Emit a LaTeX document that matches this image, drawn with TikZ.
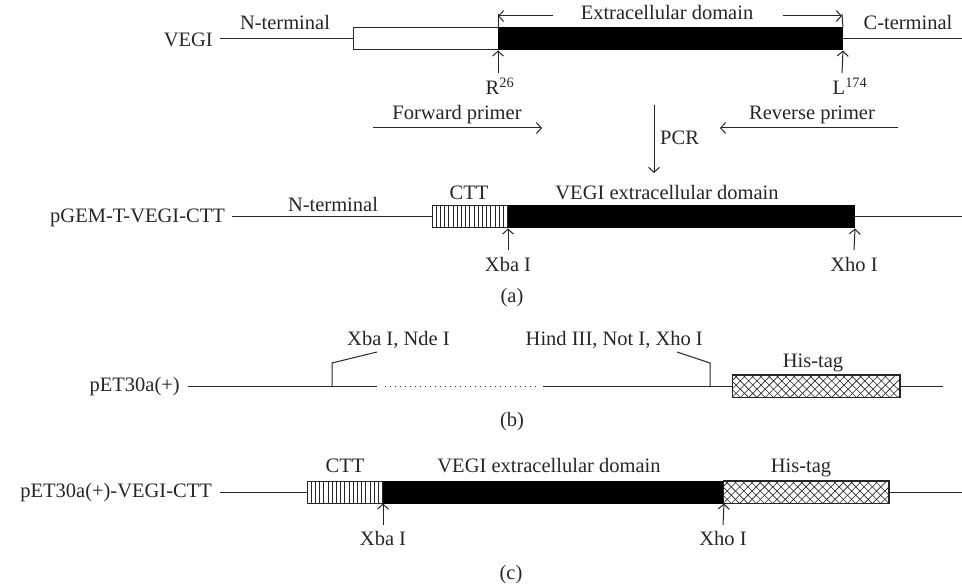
\documentclass[tikz,border=0pt]{standalone}
\usepackage{fontspec}
\setmainfont{Liberation Serif}
\usetikzlibrary{arrows.meta}
\begin{document}
\begin{tikzpicture}[x=1pt,y=-1pt,
  font=\fontsize{20.5}{24}\selectfont,
  lbl/.style={inner sep=0pt, text=black!85},
  ln/.style={line width=1pt, draw=black!85},
  arr/.style={ln, -{Straight Barb[length=5pt,width=11pt]}},
  seg/.style={inner sep=0pt, minimum height=22pt, anchor=west, line width=1pt, draw=black!85},
  blk/.style={seg, fill=black, draw=black},
  wht/.style={seg, fill=white},
  hatch/.style={line width=0.8pt, draw=black!85}]
\useasboundingbox (0,0) rectangle (962,588);

% ---------- row 1: VEGI ----------
\node[lbl, anchor=base east] (vegi) at (213,47) {VEGI};
\coordinate (r1s) at (220,39);
\coordinate (r1e) at (962,39);
\node[wht, minimum width=145pt] (nt1) at (353,39) {};
\node[blk, minimum width=344pt] (ecd1) at (498,39) {};
\draw[ln] (r1s) -- (nt1.west);
\draw[ln] (ecd1.east) -- (r1e);
\node[lbl, anchor=base] (nterm1) at (285,30) {N-terminal};
\node[lbl, anchor=base] (cterm1) at (908,30) {C-terminal};
\node[lbl, anchor=base] (ext) at (667,20) {Extracellular domain};
\coordinate (el) at (498,14);
\coordinate (er) at (842,14);
\draw[ln] (ecd1.north west) -- (el);
\draw[ln] (ecd1.north east) -- (er);
\coordinate (ela) at (553,16);
\coordinate (elb) at (498,16);
\coordinate (era) at (783,16);
\coordinate (erb) at (842,16);
\draw[arr] (ela) -- (elb);
\draw[arr] (era) -- (erb);
\node[lbl, anchor=base] (r26) at (500,95) {R\textsuperscript{26}};
\node[lbl, anchor=base] (l174) at (850,95) {L\textsuperscript{174}};
\coordinate (r26t) at (498,73);
\coordinate (l174t) at (842,73);
\draw[arr] (r26t) -- (ecd1.south west);
\draw[arr] (l174t) -- (ecd1.south east);

\node[lbl, anchor=base] (fwd) at (457,120) {Forward primer};
\node[lbl, anchor=base] (rev) at (812,120) {Reverse primer};
\coordinate (f1) at (373,128);
\coordinate (f2) at (542,128);
\coordinate (v1) at (898,128);
\coordinate (v2) at (720,128);
\draw[arr] (f1) -- (f2);
\draw[arr] (v1) -- (v2);
\coordinate (p1) at (654,105);
\coordinate (p2) at (654,173);
\draw[arr] (p1) -- (p2);
\node[lbl, anchor=base west] (pcr) at (660,145) {PCR};

% ---------- row 2: pGEM ----------
\node[lbl, anchor=base east] (pgem) at (225,223) {pGEM-T-VEGI-CTT};
\coordinate (r2s) at (232,217);
\coordinate (r2e) at (962,217);
\node[wht, minimum width=76pt] (ctt2) at (432,217) {};
\node[blk, minimum width=346pt] (ecd2) at (508,217) {};
\draw[ln] (r2s) -- (ctt2.west);
\draw[ln] (ecd2.east) -- (r2e);
\begin{scope}
  \clip (ctt2.south west) rectangle (ctt2.north east);
  \foreach \i in {1,...,18} \draw[hatch] ([xshift=\i*4.2pt]ctt2.south west) -- ([xshift=\i*4.2pt]ctt2.north west);
\end{scope}
\node[lbl, anchor=base] (nterm2) at (333,212) {N-terminal};
\node[lbl, anchor=base] (ctt2l) at (469,200) {CTT};
\node[lbl, anchor=base] (ecd2l) at (667,200) {VEGI extracellular domain};
\coordinate (xb2) at (508,250);
\coordinate (xh2) at (854,250);
\draw[arr] (xb2) -- (ecd2.south west);
\draw[arr] (xh2) -- (ecd2.south east);
\node[lbl, anchor=base] (xba2) at (508,272) {Xba I};
\node[lbl, anchor=base] (xho2) at (854,272) {Xho I};
\node[lbl, anchor=base] (la) at (512,303) {(a)};

% ---------- row b: pET30a(+) ----------
\node[lbl, anchor=base east] (pet) at (180,391) {pET30a(+)};
\coordinate (b1) at (188,386);
\coordinate (b2) at (377,386);
\coordinate (b3) at (385,386);
\coordinate (b4) at (537,386);
\coordinate (b5) at (543,386);
\coordinate (b6) at (943,386);
\node[wht, minimum width=167pt] (his2) at (732,386) {};
\begin{scope}
  \clip (his2.south west) rectangle (his2.north east);
  \foreach \i in {-3,...,21} {
    \draw[hatch, line width=0.6pt] ([xshift=\i*8.3pt]his2.south west) -- ++(24,-24);
    \draw[hatch, line width=0.6pt] ([xshift=\i*8.3pt]his2.south west) -- ++(-24,-24);
  }
\end{scope}
\draw[ln] (his2.south west) rectangle (his2.north east);
\draw[ln] (b1) -- (b2);
\draw[ln, dash pattern=on 1pt off 4pt] (b3) -- (b4);
\draw[ln] (b5) -- (his2.west);
\draw[ln] (his2.east) -- (b6);
\coordinate (m1a) at (332,386);
\coordinate (m1b) at (332,363);
\coordinate (m1c) at (377,352);
\coordinate (m2a) at (710,386);
\coordinate (m2b) at (710,363);
\coordinate (m2c) at (677,352);
\draw[ln] (m1a) -- (m1b) -- (m1c);
\draw[ln] (m2a) -- (m2b) -- (m2c);
\node[lbl, anchor=base west] (xnd) at (347,345) {Xba I, Nde I};
\node[lbl, anchor=base east] (hnx) at (703,345) {Hind III, Not I, Xho I};
\node[lbl, anchor=base] (his2l) at (813,367) {His-tag};
\node[lbl, anchor=base] (lb) at (512,426) {(b)};

% ---------- row c: pET30a(+)-VEGI-CTT ----------
\node[lbl, anchor=base east] (petv) at (212,497) {pET30a(+)-VEGI-CTT};
\coordinate (c1) at (220,492);
\coordinate (c2) at (962,492);
\node[wht, minimum width=76pt] (ctt3) at (307,492) {};
\node[blk, minimum width=340pt] (ecd3) at (383,492) {};
\node[wht, minimum width=165pt] (his3) at (723,492) {};
\begin{scope}
  \clip (ctt3.south west) rectangle (ctt3.north east);
  \foreach \i in {1,...,18} \draw[hatch] ([xshift=\i*4.2pt]ctt3.south west) -- ([xshift=\i*4.2pt]ctt3.north west);
\end{scope}
\begin{scope}
  \clip (his3.south west) rectangle (his3.north east);
  \foreach \i in {-3,...,21} {
    \draw[hatch, line width=0.6pt] ([xshift=\i*8.3pt]his3.south west) -- ++(24,-24);
    \draw[hatch, line width=0.6pt] ([xshift=\i*8.3pt]his3.south west) -- ++(-24,-24);
  }
\end{scope}
\draw[ln] (his3.south west) rectangle (his3.north east);
\draw[ln] (c1) -- (ctt3.west);
\draw[ln] (his3.east) -- (c2);
\node[lbl, anchor=base] (ctt3l) at (345,472) {CTT};
\node[lbl, anchor=base] (ecd3l) at (549,472) {VEGI extracellular domain};
\node[lbl, anchor=base] (his3l) at (801,472) {His-tag};
\coordinate (xb3) at (383,525);
\coordinate (xh3) at (723,525);
\draw[arr] (xb3) -- (ecd3.south west);
\draw[arr] (xh3) -- (ecd3.south east);
\node[lbl, anchor=base] (xba3) at (383,545) {Xba I};
\node[lbl, anchor=base] (xho3) at (723,545) {Xho I};
\node[lbl, anchor=base] (lc) at (511,579) {(c)};
\end{tikzpicture}
\end{document}
